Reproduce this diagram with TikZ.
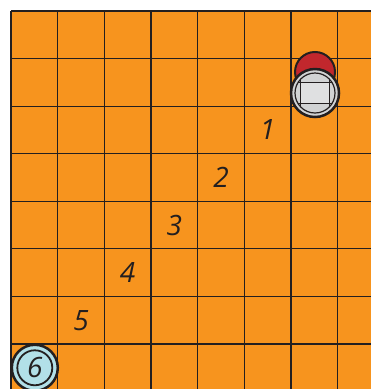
\documentclass[tikz,border=0pt]{standalone}
\usepackage{fontspec}
\newfontfamily\digitFont{Open Sans}
\begin{document}
\begin{tikzpicture}[x=46.67pt, y=-47.57pt]
    \def\gridCols{7}
    \def\gridRows{7}
    \definecolor{boardColour}{HTML}{F7941E}
    \definecolor{lineColour}{HTML}{231F20}
    \definecolor{goalColour}{HTML}{B2E0E8}
    \definecolor{robotColour}{HTML}{D1D3D4}
    \definecolor{headColour}{HTML}{C1272D}
    \tikzset{
        stepnum/.style={font=\digitFont\itshape\fontsize{28}{28}\selectfont, text=lineColour, inner sep=0pt},
        gridline/.style={lineColour, line width=1.1pt}
    }

    \useasboundingbox (-0.2357,-0.2312) rectangle (7.714,7.946);

    % Draw board
    \fill[boardColour] (0,0) rectangle (7.714,7.946);
    \foreach \x in {0,...,\gridCols}
        \draw[gridline] (\x,0) -- (\x,7.946);
    \foreach \y in {0,...,\gridRows}
        \draw[gridline] (0,\y) -- (7.714,\y);

    % Steps along the diagonal
    \foreach \n/\c/\r in {1/5/2, 2/4/3, 3/3/4, 4/2/5, 5/1/6}
        \node[stepnum] (num\n) at (\c+0.5,\r+0.5) {\n};

    % Goal cell
    \node[circle, draw=lineColour, line width=2.5pt, fill=goalColour, minimum size=46pt, inner sep=0pt] (goal) at (0.51,7.5) {};
    \draw[lineColour, line width=1.8pt] (goal.center) circle (17.5pt);
    \node[stepnum] (num6) at (goal.center) {6};

    % Robot
    \coordinate (head) at (6.514,1.282);
    \coordinate (robot) at (6.514,1.724);
    \filldraw[fill=headColour, draw=lineColour, line width=2pt] (head) circle (20pt);
    \filldraw[fill=robotColour, draw=lineColour, line width=2.5pt] (robot) circle (24pt);
    \draw[lineColour, line width=1.2pt] (robot) circle (20pt);
    \begin{scope}
        \clip (robot) circle (20pt);
        \fill[robotColour!70!white] ([shift={(-14.5pt,-10.5pt)}]robot) rectangle ([shift={(14.5pt,10.5pt)}]robot);
        \draw[lineColour, line width=1.6pt] ([shift={(-30pt,10.5pt)}]robot) -- ([shift={(30pt,10.5pt)}]robot);
        \draw[lineColour, line width=1.6pt] ([shift={(-30pt,-10.5pt)}]robot) -- ([shift={(30pt,-10.5pt)}]robot);
        \draw[lineColour, line width=1.6pt] ([shift={(-14.5pt,-30pt)}]robot) -- ([shift={(-14.5pt,30pt)}]robot);
        \draw[lineColour, line width=1.6pt] ([shift={(14.5pt,-30pt)}]robot) -- ([shift={(14.5pt,30pt)}]robot);
    \end{scope}

\end{tikzpicture}
\end{document}
